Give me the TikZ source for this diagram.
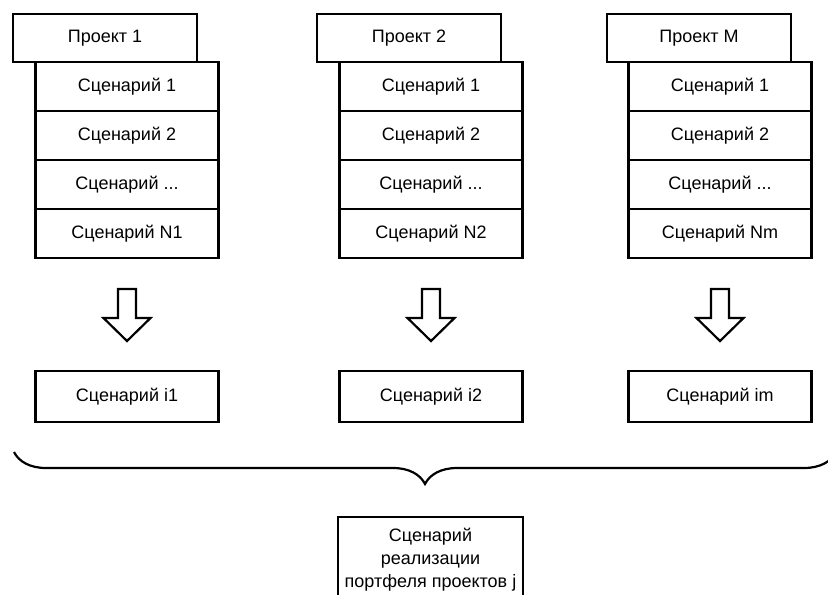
\documentclass[tikz,border=0pt]{standalone}
\usepackage{fontspec}
\setmainfont{Liberation Sans}
\usetikzlibrary{positioning,decorations.pathreplacing}

\tikzset{
  box/.style={draw, line width=1.1pt, inner sep=0pt, outer sep=0pt, align=center,
    font=\fontsize{9}{11.5}\selectfont},
  projbox/.style={box, minimum width=92pt, minimum height=24pt},
  scenbox/.style={box, minimum width=91.5pt, minimum height=24.5pt},
  resbox/.style={box, minimum width=91.5pt, minimum height=25.5pt},
  hollow/.style={line width=1.1pt, line join=miter},
}

\begin{document}
\begin{tikzpicture}[x=0.5pt,y=-0.5pt]
  \useasboundingbox (0,0) rectangle (828,594);
  \clip (0,0) rectangle (828,594);
  % project 1
  \node[projbox] (p1) at (105,38) {Проект 1};
  \node[scenbox] (s11) at (127,86.5) {Сценарий 1};
  \node[scenbox, below=0pt of s11] (s12) {Сценарий 2};
  \node[scenbox, below=0pt of s12] (s13) {Сценарий ...};
  \node[scenbox, below=0pt of s13] (s14) {Сценарий N1};
  % project 2
  \node[projbox] (p2) at (409,38) {Проект 2};
  \node[scenbox] (s21) at (431,86.5) {Сценарий 1};
  \node[scenbox, below=0pt of s21] (s22) {Сценарий 2};
  \node[scenbox, below=0pt of s22] (s23) {Сценарий ...};
  \node[scenbox, below=0pt of s23] (s24) {Сценарий N2};
  % project M
  \node[projbox] (pm) at (699,38) {Проект M};
  \node[scenbox] (sm1) at (720,86.5) {Сценарий 1};
  \node[scenbox, below=0pt of sm1] (sm2) {Сценарий 2};
  \node[scenbox, below=0pt of sm2] (sm3) {Сценарий ...};
  \node[scenbox, below=0pt of sm3] (sm4) {Сценарий Nm};
  % chosen scenarios
  \node[resbox, below=56.5pt of s14] (i1) {Сценарий i1};
  \node[resbox, below=56.5pt of s24] (i2) {Сценарий i2};
  \node[resbox, below=56.5pt of sm4] (im) {Сценарий im};
  % hollow arrows
  \coordinate[below=15.5pt of s14] (a1);
  \coordinate[below=15.5pt of s24] (a2);
  \coordinate[below=15.5pt of sm4] (am);
  \draw[hollow] (a1) ++(-9,0) -- ++(18,0) -- ++(0,29) -- ++(14.5,0)
    -- ++(-23.5,23) -- ++(-23.5,-23) -- ++(14.5,0) -- cycle;
  \draw[hollow] (a2) ++(-9,0) -- ++(18,0) -- ++(0,29) -- ++(14.5,0)
    -- ++(-23.5,23) -- ++(-23.5,-23) -- ++(14.5,0) -- cycle;
  \draw[hollow] (am) ++(-9,0) -- ++(18,0) -- ++(0,29) -- ++(14.5,0)
    -- ++(-23.5,23) -- ++(-23.5,-23) -- ++(14.5,0) -- cycle;
  % brace
  \coordinate (bl) at (14,452);
  \coordinate (br) at (836,452);
  \draw[line width=1.1pt, decorate, decoration={brace, mirror, amplitude=16pt}] (bl) -- (br);
  % portfolio
  \node[box, minimum width=92.5pt, minimum height=43pt] (pf) at (430.5,560)
    {Сценарий\\реализации\\портфеля проектов j};
\end{tikzpicture}
\end{document}
